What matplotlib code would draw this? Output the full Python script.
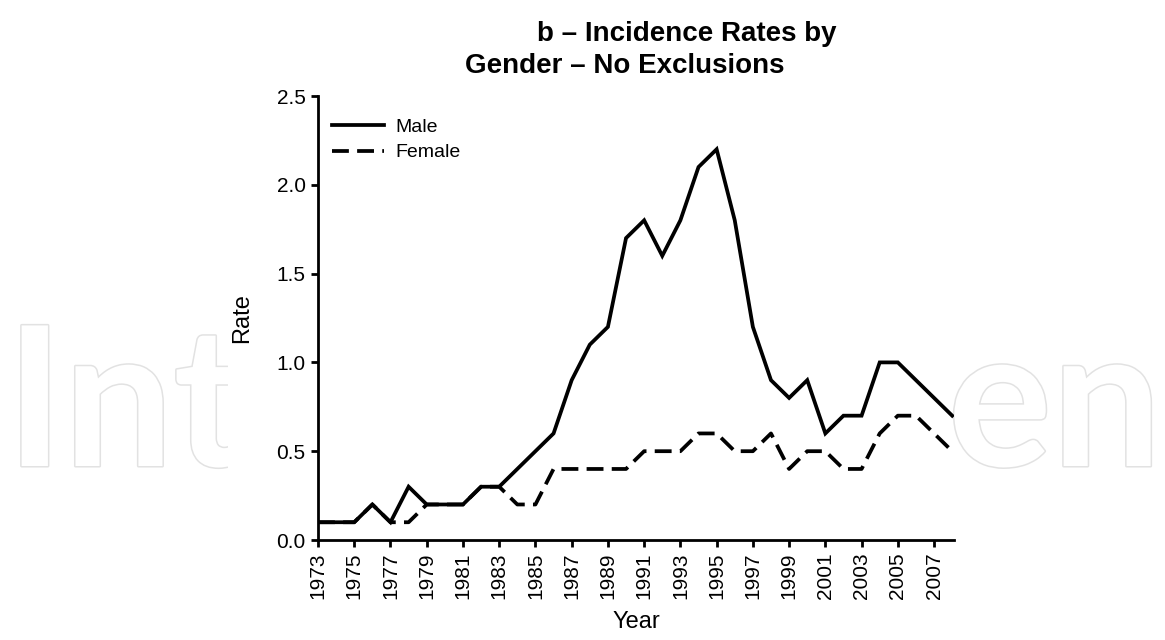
import matplotlib
matplotlib.use("Agg")
import matplotlib.pyplot as plt
import matplotlib.patheffects as pe
from matplotlib.patches import Rectangle

# Data
years = list(range(1973, 2009))
male = [0.1, 0.1, 0.1, 0.2, 0.1, 0.3, 0.2, 0.2, 0.2, 0.3, 0.3, 0.4,
        0.5, 0.6, 0.9, 1.1, 1.2, 1.7, 1.8, 1.6, 1.8, 2.1, 2.2, 1.8,
        1.2, 0.9, 0.8, 0.9, 0.6, 0.7, 0.7, 1.0, 1.0, 0.9, 0.8, 0.7]
female = [0.1, 0.1, 0.1, 0.2, 0.1, 0.1, 0.2, 0.2, 0.2, 0.3, 0.3, 0.2,
          0.2, 0.4, 0.4, 0.4, 0.4, 0.4, 0.5, 0.5, 0.5, 0.6, 0.6, 0.5,
          0.5, 0.6, 0.4, 0.5, 0.5, 0.4, 0.4, 0.6, 0.7, 0.7, 0.6, 0.5]
xtick_years = list(range(1973, 2008, 2))
yticks = [0.0, 0.5, 1.0, 1.5, 2.0, 2.5]

narrow = ['Liberation Sans Narrow', 'Liberation Sans', 'DejaVu Sans']
regular = ['Liberation Sans', 'DejaVu Sans']

W, H = 1165, 640
fig = plt.figure(figsize=(W / 100, H / 100), dpi=100)
fig.patch.set_facecolor('white')

# Watermark behind the chart (only the outer letters show)
wm_fx = [pe.withStroke(linewidth=2.2, foreground='#e2e2e2')]
fig.text(6 / W, 1 - 466 / H, 'Int', ha='left', va='baseline', fontsize=140, weight='bold',
         family=['Lato', 'DejaVu Sans'], color='white', path_effects=wm_fx, zorder=-3)
fig.text(948 / W, 1 - 466 / H, 'en', ha='left', va='baseline', fontsize=140, weight='bold',
         family=['Lato', 'DejaVu Sans'], color='white', path_effects=wm_fx, zorder=-3)
fig.patches.append(Rectangle((228 / W, 0), (952 - 228) / W, 1, transform=fig.transFigure,
                             facecolor='white', edgecolor='none', zorder=-2))

# Axes
ax = fig.add_axes([318 / W, 100 / H, (954 - 318) / W, 444 / H])
ax.set_facecolor('none')
ax.plot(years, male, color='black', lw=2.7, solid_joinstyle='miter', label='Male')
ax.plot(years, female, color='black', lw=2.7, linestyle=(0, (4.5, 2.2)), label='Female')

ax.set_xlim(1973, 2008.1)
ax.set_ylim(0, 2.5)
ax.set_xticks(xtick_years)
ax.set_xticklabels([str(y) for y in xtick_years], rotation=90, family=narrow, fontsize=15)
ax.set_yticks(yticks)
ax.set_yticklabels(['%.1f' % v for v in yticks], family=narrow, fontsize=15)

for s in ['top', 'right']:
    ax.spines[s].set_visible(False)
for s in ['left', 'bottom']:
    ax.spines[s].set_linewidth(2.0)
ax.tick_params(axis='both', direction='out', length=5, width=2.0, pad=4, colors='black')

ax.set_ylabel('Rate', family=regular, fontsize=17)
ax.yaxis.set_label_coords(-0.102, 0.5)
ax.set_xlabel('Year', family=regular, fontsize=17)
ax.xaxis.set_label_coords(0.5, -0.16)

leg = ax.legend(loc='upper left', bbox_to_anchor=(0.0, 0.98), frameon=False,
                prop={'family': regular, 'size': 14}, handlelength=2.7,
                handletextpad=0.6, labelspacing=0.4, borderaxespad=0.3)

# Two-line title
fig.text(537 / W, 1 - 41 / H, 'b – Incidence Rates by', ha='left', va='baseline',
         fontsize=20, weight='bold', family=narrow)
fig.text(465 / W, 1 - 73 / H, 'Gender – No Exclusions', ha='left', va='baseline',
         fontsize=20, weight='bold', family=narrow)

fig.savefig('out.png', dpi=100)
